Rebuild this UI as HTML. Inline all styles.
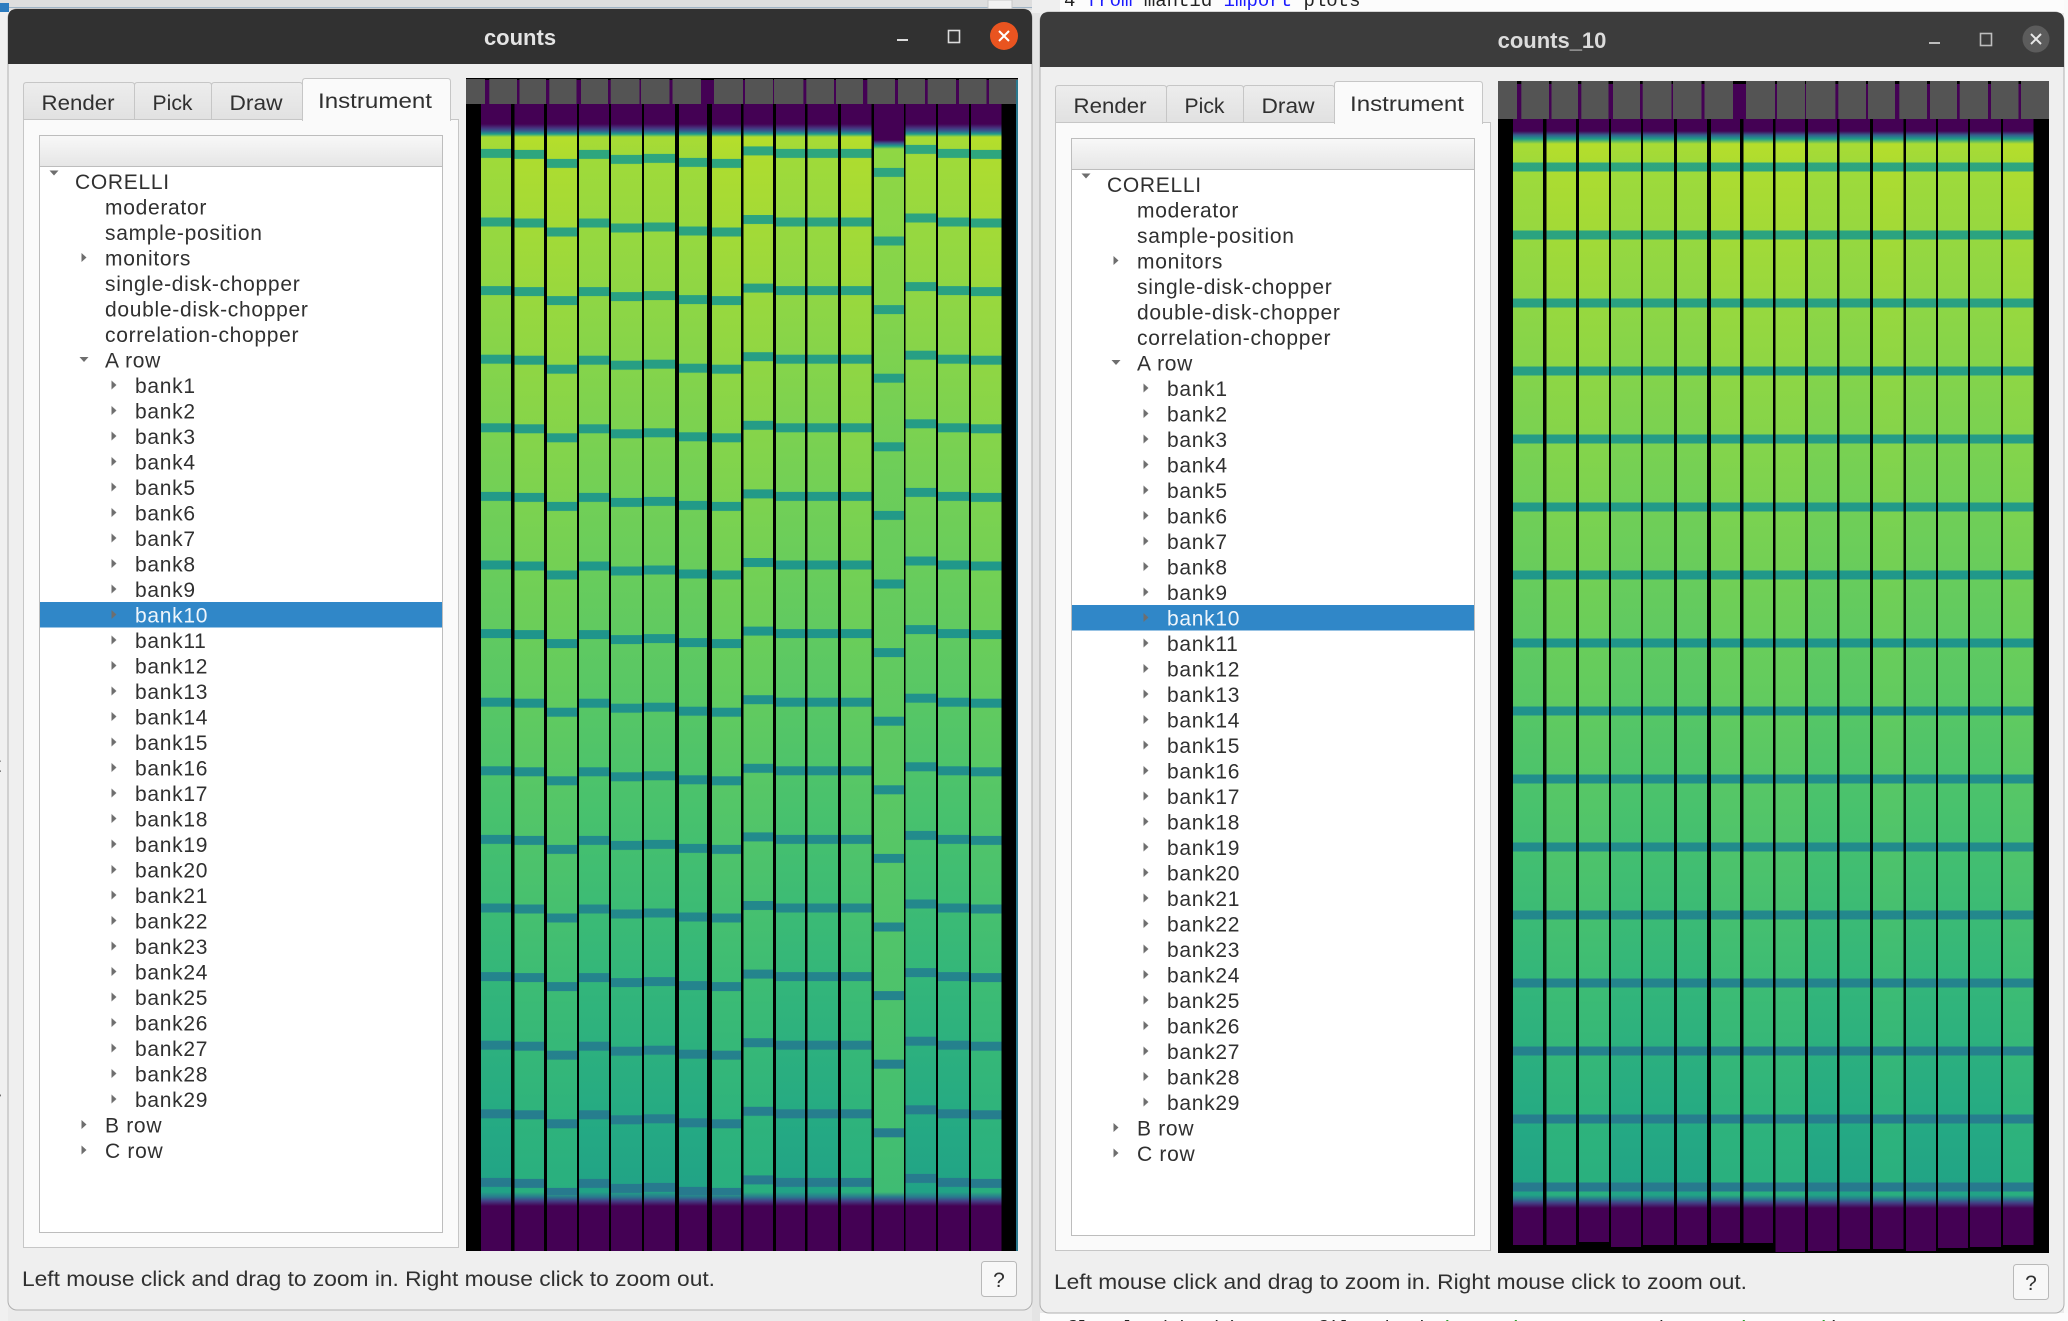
<!DOCTYPE html>
<html><head><meta charset="utf-8"><style>
html,body{margin:0;padding:0;width:2068px;height:1321px;overflow:hidden;background:#ebebeb}
svg{display:block}
.t{font-family:"Liberation Sans",sans-serif;font-size:21px;letter-spacing:.7px;fill:#303030}
.tab{font-family:"Liberation Sans",sans-serif;font-size:21px;fill:#303030}
.ttl{font-family:"Liberation Sans",sans-serif;font-size:22px;font-weight:bold;fill:#e4e4e4}
.st{font-family:"Liberation Sans",sans-serif;font-size:21px;fill:#303030}
.mono{font-family:"Liberation Mono",monospace;font-size:19px}
</style></head><body>
<svg width="2068" height="1321" viewBox="0 0 2068 1321" xmlns="http://www.w3.org/2000/svg">
<defs>
<linearGradient id="hdr" x1="0" y1="0" x2="0" y2="1"><stop offset="0" stop-color="#f8f8f8"/><stop offset="1" stop-color="#e6e6e6"/></linearGradient>
<linearGradient id="itab" x1="0" y1="0" x2="0" y2="1"><stop offset="0" stop-color="#ededed"/><stop offset="1" stop-color="#e1e1e1"/></linearGradient>
<linearGradient id="gA" gradientUnits="userSpaceOnUse" x1="0" y1="104" x2="0" y2="1251">
<stop offset="0" stop-color="#440154"/><stop offset="0.0174" stop-color="#440154"/><stop offset="0.0209" stop-color="#46337e"/><stop offset="0.0235" stop-color="#365c8d"/><stop offset="0.0262" stop-color="#1f9e89"/><stop offset="0.0288" stop-color="#a8db34"/><stop offset="0.0488" stop-color="#9fda3a"/><stop offset="0.1709" stop-color="#8ed645"/><stop offset="0.328" stop-color="#74d055"/><stop offset="0.476" stop-color="#5ec962"/><stop offset="0.624" stop-color="#47c16e"/><stop offset="0.7637" stop-color="#33b67a"/><stop offset="0.8858" stop-color="#25aa83"/><stop offset="0.9486" stop-color="#21a386"/><stop offset="0.953" stop-color="#2a788e"/><stop offset="0.9564" stop-color="#433e85"/><stop offset="0.9608" stop-color="#440154"/><stop offset="1" stop-color="#440154"/>
</linearGradient>
<linearGradient id="gB" gradientUnits="userSpaceOnUse" x1="0" y1="104" x2="0" y2="1251">
<stop offset="0" stop-color="#440154"/><stop offset="0.0174" stop-color="#440154"/><stop offset="0.0209" stop-color="#46337e"/><stop offset="0.0235" stop-color="#365c8d"/><stop offset="0.0262" stop-color="#1f9e89"/><stop offset="0.0288" stop-color="#b5de2b"/><stop offset="0.0488" stop-color="#addc30"/><stop offset="0.1709" stop-color="#98d83e"/><stop offset="0.328" stop-color="#7fd34e"/><stop offset="0.476" stop-color="#68cd5b"/><stop offset="0.624" stop-color="#52c569"/><stop offset="0.7637" stop-color="#3dbc74"/><stop offset="0.8858" stop-color="#2eb37c"/><stop offset="0.9486" stop-color="#29af7f"/><stop offset="0.953" stop-color="#2a788e"/><stop offset="0.9564" stop-color="#433e85"/><stop offset="0.9608" stop-color="#440154"/><stop offset="1" stop-color="#440154"/>
</linearGradient>
<linearGradient id="gC" gradientUnits="userSpaceOnUse" x1="0" y1="104" x2="0" y2="1251">
<stop offset="0" stop-color="#440154"/><stop offset="0.0314" stop-color="#440154"/><stop offset="0.034" stop-color="#3b528b"/><stop offset="0.0366" stop-color="#1f9e89"/><stop offset="0.0392" stop-color="#8fd744"/><stop offset="0.1709" stop-color="#84d44b"/><stop offset="0.328" stop-color="#6ccd5a"/><stop offset="0.476" stop-color="#62ca5f"/><stop offset="0.624" stop-color="#58c765"/><stop offset="0.7637" stop-color="#4ec36b"/><stop offset="0.8858" stop-color="#44bf70"/><stop offset="0.9486" stop-color="#3fbc73"/><stop offset="0.9529" stop-color="#2a788e"/><stop offset="0.9564" stop-color="#433e85"/><stop offset="0.9608" stop-color="#440154"/><stop offset="1" stop-color="#440154"/>
</linearGradient>
<linearGradient id="hA" gradientUnits="userSpaceOnUse" x1="0" y1="119" x2="0" y2="1253">
<stop offset="0" stop-color="#440154"/><stop offset="0.0106" stop-color="#440154"/><stop offset="0.0141" stop-color="#365c8d"/><stop offset="0.0176" stop-color="#1f9e89"/><stop offset="0.022" stop-color="#a8db34"/><stop offset="0.0406" stop-color="#9fda3a"/><stop offset="0.1596" stop-color="#8ed645"/><stop offset="0.3183" stop-color="#74d055"/><stop offset="0.4683" stop-color="#5ec962"/><stop offset="0.6182" stop-color="#47c16e"/><stop offset="0.7593" stop-color="#33b67a"/><stop offset="0.8827" stop-color="#25aa83"/><stop offset="0.9489" stop-color="#21a386"/><stop offset="0.9524" stop-color="#2a788e"/><stop offset="0.9559" stop-color="#433e85"/><stop offset="0.9603" stop-color="#440154"/><stop offset="1" stop-color="#440154"/>
</linearGradient>
<linearGradient id="hB" gradientUnits="userSpaceOnUse" x1="0" y1="119" x2="0" y2="1253">
<stop offset="0" stop-color="#440154"/><stop offset="0.0106" stop-color="#440154"/><stop offset="0.0141" stop-color="#365c8d"/><stop offset="0.0176" stop-color="#1f9e89"/><stop offset="0.022" stop-color="#b5de2b"/><stop offset="0.0406" stop-color="#addc30"/><stop offset="0.1596" stop-color="#98d83e"/><stop offset="0.3183" stop-color="#7fd34e"/><stop offset="0.4683" stop-color="#68cd5b"/><stop offset="0.6182" stop-color="#52c569"/><stop offset="0.7593" stop-color="#3dbc74"/><stop offset="0.8827" stop-color="#2eb37c"/><stop offset="0.9489" stop-color="#29af7f"/><stop offset="0.9524" stop-color="#2a788e"/><stop offset="0.9559" stop-color="#433e85"/><stop offset="0.9603" stop-color="#440154"/><stop offset="1" stop-color="#440154"/>
</linearGradient>
<linearGradient id="bandG1" gradientUnits="userSpaceOnUse" x1="0" y1="140" x2="0" y2="1195">
<stop offset="0" stop-color="#2ea67e"/><stop offset="0.45" stop-color="#1f968b"/><stop offset="1" stop-color="#277a8e"/>
</linearGradient>
<linearGradient id="bandG2" gradientUnits="userSpaceOnUse" x1="0" y1="146" x2="0" y2="1195">
<stop offset="0" stop-color="#2ea67e"/><stop offset="0.45" stop-color="#1f968b"/><stop offset="1" stop-color="#277a8e"/>
</linearGradient>
<pattern id="q1" patternUnits="userSpaceOnUse" width="40" height="68.6" patternTransform="translate(0,217.5)"><rect width="40" height="9" fill="#fff"/></pattern>
<pattern id="q2" patternUnits="userSpaceOnUse" width="40" height="68.6" patternTransform="translate(0,218.5)"><rect width="40" height="9" fill="#fff"/></pattern>
<pattern id="q3" patternUnits="userSpaceOnUse" width="40" height="68.6" patternTransform="translate(0,227.5)"><rect width="40" height="9" fill="#fff"/></pattern>
<pattern id="q4" patternUnits="userSpaceOnUse" width="40" height="68.6" patternTransform="translate(0,218.5)"><rect width="40" height="9" fill="#fff"/></pattern>
<pattern id="q5" patternUnits="userSpaceOnUse" width="40" height="68.6" patternTransform="translate(0,223.5)"><rect width="40" height="9" fill="#fff"/></pattern>
<pattern id="q6" patternUnits="userSpaceOnUse" width="40" height="68.6" patternTransform="translate(0,222.5)"><rect width="40" height="9" fill="#fff"/></pattern>
<pattern id="q7" patternUnits="userSpaceOnUse" width="40" height="68.6" patternTransform="translate(0,226.5)"><rect width="40" height="9" fill="#fff"/></pattern>
<pattern id="q8" patternUnits="userSpaceOnUse" width="40" height="68.6" patternTransform="translate(0,227.5)"><rect width="40" height="9" fill="#fff"/></pattern>
<pattern id="q9" patternUnits="userSpaceOnUse" width="40" height="68.6" patternTransform="translate(0,215)"><rect width="40" height="9" fill="#fff"/></pattern>
<pattern id="q10" patternUnits="userSpaceOnUse" width="40" height="68.6" patternTransform="translate(0,217.5)"><rect width="40" height="9" fill="#fff"/></pattern>
<pattern id="q11" patternUnits="userSpaceOnUse" width="40" height="68.6" patternTransform="translate(0,217.5)"><rect width="40" height="9" fill="#fff"/></pattern>
<pattern id="q12" patternUnits="userSpaceOnUse" width="40" height="68.6" patternTransform="translate(0,217.5)"><rect width="40" height="9" fill="#fff"/></pattern>
<pattern id="q13" patternUnits="userSpaceOnUse" width="40" height="68.6" patternTransform="translate(0,236.5)"><rect width="40" height="9" fill="#fff"/></pattern>
<pattern id="q14" patternUnits="userSpaceOnUse" width="40" height="68.6" patternTransform="translate(0,213.5)"><rect width="40" height="9" fill="#fff"/></pattern>
<pattern id="q15" patternUnits="userSpaceOnUse" width="40" height="68.6" patternTransform="translate(0,217.5)"><rect width="40" height="9" fill="#fff"/></pattern>
<pattern id="q16" patternUnits="userSpaceOnUse" width="40" height="68.6" patternTransform="translate(0,218.5)"><rect width="40" height="9" fill="#fff"/></pattern>
<pattern id="qW2" patternUnits="userSpaceOnUse" width="40" height="68" patternTransform="translate(0,162.5)"><rect width="40" height="9" fill="#fff"/></pattern>
<pattern id="arr" patternUnits="userSpaceOnUse" width="10" height="25.5" patternTransform="translate(110,372.25)"><path d="M1.5 8.25L6.5 12.75L1.5 17.25Z" fill="#6e6e6e"/></pattern>
<mask id="m1" maskUnits="userSpaceOnUse" x="0" y="0" width="2068" height="1321">
<rect x="481" y="141" width="30" height="1054" fill="url(#q1)"/>
<rect x="514.5" y="141" width="29.5" height="1054" fill="url(#q2)"/>
<rect x="547" y="141" width="30" height="1054" fill="url(#q3)"/>
<rect x="579" y="141" width="30" height="1054" fill="url(#q4)"/>
<rect x="611" y="141" width="31" height="1054" fill="url(#q5)"/>
<rect x="644" y="141" width="31" height="1054" fill="url(#q6)"/>
<rect x="679" y="141" width="28" height="1054" fill="url(#q7)"/>
<rect x="712" y="141" width="29" height="1054" fill="url(#q8)"/>
<rect x="743.5" y="141" width="29.5" height="1054" fill="url(#q9)"/>
<rect x="776" y="141" width="29" height="1054" fill="url(#q10)"/>
<rect x="807.5" y="141" width="30.5" height="1054" fill="url(#q11)"/>
<rect x="841" y="141" width="30.5" height="1054" fill="url(#q12)"/>
<rect x="874" y="150" width="30" height="1045" fill="url(#q13)"/>
<rect x="905.5" y="141" width="30.5" height="1054" fill="url(#q14)"/>
<rect x="938" y="141" width="31" height="1054" fill="url(#q15)"/>
<rect x="971" y="141" width="30.5" height="1054" fill="url(#q16)"/>
</mask>
<mask id="m2" maskUnits="userSpaceOnUse" x="0" y="0" width="2068" height="1321">
<g fill="url(#qW2)">
<rect x="1513" y="147" width="30" height="1047"/>
<rect x="1546.5" y="147" width="29.5" height="1047"/>
<rect x="1579" y="147" width="30" height="1047"/>
<rect x="1611" y="147" width="30" height="1047"/>
<rect x="1643" y="147" width="31" height="1047"/>
<rect x="1677" y="147" width="30" height="1047"/>
<rect x="1711" y="147" width="29" height="1047"/>
<rect x="1743.5" y="147" width="29.5" height="1047"/>
<rect x="1775.5" y="147" width="29.5" height="1047"/>
<rect x="1808" y="147" width="29" height="1047"/>
<rect x="1839.5" y="147" width="30.5" height="1047"/>
<rect x="1873" y="147" width="30.5" height="1047"/>
<rect x="1906" y="147" width="30" height="1047"/>
<rect x="1938" y="147" width="30" height="1047"/>
<rect x="1970" y="147" width="31" height="1047"/>
<rect x="2003" y="147" width="30.5" height="1047"/>
</g>
</mask>
</defs>

<rect x="0" y="0" width="2068" height="1321" fill="#ebebeb"/>
<rect x="0" y="0" width="1040" height="10" fill="#dedede"/>
<rect x="0" y="7" width="1040" height="1" fill="#9fb4c6"/>
<rect x="0" y="3" width="9" height="9" fill="#2b7bbf"/>
<rect x="988" y="0" width="24" height="10" fill="#f2f2f2" stroke="#c8c8c8"/>
<rect x="0" y="12" width="8" height="1309" fill="#f0f0f0"/>
<text x="-5" y="772" class="st" font-size="20">t</text>
<text x="-6" y="1106" class="st" font-size="20">r</text>
<rect x="1032" y="0" width="8" height="1321" fill="#e4e4e4"/>
<rect x="1040" y="0" width="1028" height="13" fill="#fcfcfc"/>
<rect x="1032" y="0" width="28" height="13" fill="#efefef"/>
<text x="1064" y="6" class="mono"><tspan fill="#222">4 </tspan><tspan fill="#1a1aff">from</tspan><tspan fill="#222"> mantid </tspan><tspan fill="#1a1aff">import</tspan><tspan fill="#222"> plots</tspan></text>
<rect x="2064" y="0" width="4" height="1321" fill="#fafafa"/>
<rect x="1040" y="1313" width="1028" height="8" fill="#fcfcfc"/>
<text x="1054" y="1334" class="mono" fill="#222">5f] = load_bank(counts_file, bank=<tspan fill="#2a9d2a">'10_10'</tspan>, output_workspace=<tspan fill="#2a9d2a">'counts'</tspan>)</text>

<g>
<rect x="8" y="9" width="1024" height="1301" rx="9" fill="#efefef" stroke="#b0b0b0"/>
<path d="M8 64V18Q8 9 17 9H1023Q1032 9 1032 18V64Z" fill="#313131"/>
<text x="520" y="45" text-anchor="middle" class="ttl">counts</text>
<line x1="897" y1="40" x2="908" y2="40" stroke="#dcdcdc" stroke-width="2"/>
<rect x="948.5" y="30.5" width="11" height="12" fill="none" stroke="#dcdcdc" stroke-width="1.6"/>
<circle cx="1004" cy="36" r="14" fill="#e95420"/>
<path d="M999 31L1009 41M1009 31L999 41" stroke="#fff" stroke-width="2"/>
<rect x="23.5" y="119.5" width="435" height="1128" fill="#fafafa" stroke="#c6c6c6"/>
<path d="M23.5 119.5V85.5Q23.5 82.5 26.5 82.5H131.5Q134.5 82.5 134.5 85.5V119.5Z" fill="url(#itab)" stroke="#c6c6c6"/>
<path d="M134.5 119.5V85.5Q134.5 82.5 137.5 82.5H208.5Q211.5 82.5 211.5 85.5V119.5Z" fill="url(#itab)" stroke="#c6c6c6"/>
<path d="M211.5 119.5V85.5Q211.5 82.5 214.5 82.5H299.5Q302.5 82.5 302.5 85.5V119.5Z" fill="url(#itab)" stroke="#c6c6c6"/>
<path d="M302.5 121V81.5Q302.5 78.5 305.5 78.5H447.5Q450.5 78.5 450.5 81.5V121" fill="#fafafa" stroke="#c6c6c6"/>
<rect x="303" y="118" width="147" height="4" fill="#fafafa"/>
<text x="78" y="110" text-anchor="middle" class="tab" textLength="73" lengthAdjust="spacingAndGlyphs">Render</text>
<text x="172.5" y="110" text-anchor="middle" class="tab" textLength="40" lengthAdjust="spacingAndGlyphs">Pick</text>
<text x="256" y="110" text-anchor="middle" class="tab" textLength="53" lengthAdjust="spacingAndGlyphs">Draw</text>
<text x="375" y="108" text-anchor="middle" class="tab" textLength="114" lengthAdjust="spacingAndGlyphs">Instrument</text>
<rect x="39.5" y="135.5" width="403" height="31" fill="url(#hdr)" stroke="#bdbdbd"/>
<rect x="39.5" y="166.5" width="403" height="1066" fill="#ffffff" stroke="#bdbdbd"/>
<rect x="40" y="602" width="402" height="25.5" fill="#3087c8"/>
<path d="M49.5 170.5H58.5L54 175.5Z" fill="#6e6e6e"/>
<path d="M81.5 253L86.5 257.5L81.5 262Z" fill="#6e6e6e"/>
<path d="M79.5 357H88.5L84 362Z" fill="#6e6e6e"/>
<path d="M81.5 1120L86.5 1124.5L81.5 1129Z" fill="#6e6e6e"/>
<path d="M81.5 1145.5L86.5 1150L81.5 1154.5Z" fill="#6e6e6e"/>
<rect x="110" y="372.25" width="10" height="739.5" fill="url(#arr)"/>
<text class="t" x="75" y="189">CORELLI</text>
<text class="t" x="105" y="214.5">moderator</text>
<text class="t" x="105" y="240">sample-position</text>
<text class="t" x="105" y="265.5">monitors</text>
<text class="t" x="105" y="291">single-disk-chopper</text>
<text class="t" x="105" y="316.5">double-disk-chopper</text>
<text class="t" x="105" y="342">correlation-chopper</text>
<text class="t" x="105" y="367.5">A row</text>
<text class="t" x="135" y="393">bank1</text>
<text class="t" x="135" y="418.5">bank2</text>
<text class="t" x="135" y="444">bank3</text>
<text class="t" x="135" y="469.5">bank4</text>
<text class="t" x="135" y="495">bank5</text>
<text class="t" x="135" y="520.5">bank6</text>
<text class="t" x="135" y="546">bank7</text>
<text class="t" x="135" y="571.5">bank8</text>
<text class="t" x="135" y="597">bank9</text>
<text class="t" x="135" y="622.5" style="fill:#eef5fb">bank10</text>
<text class="t" x="135" y="648">bank11</text>
<text class="t" x="135" y="673.5">bank12</text>
<text class="t" x="135" y="699">bank13</text>
<text class="t" x="135" y="724.5">bank14</text>
<text class="t" x="135" y="750">bank15</text>
<text class="t" x="135" y="775.5">bank16</text>
<text class="t" x="135" y="801">bank17</text>
<text class="t" x="135" y="826.5">bank18</text>
<text class="t" x="135" y="852">bank19</text>
<text class="t" x="135" y="877.5">bank20</text>
<text class="t" x="135" y="903">bank21</text>
<text class="t" x="135" y="928.5">bank22</text>
<text class="t" x="135" y="954">bank23</text>
<text class="t" x="135" y="979.5">bank24</text>
<text class="t" x="135" y="1005">bank25</text>
<text class="t" x="135" y="1030.5">bank26</text>
<text class="t" x="135" y="1056">bank27</text>
<text class="t" x="135" y="1081.5">bank28</text>
<text class="t" x="135" y="1107">bank29</text>
<text class="t" x="105" y="1132.5">B row</text>
<text class="t" x="105" y="1158">C row</text>
<text x="22" y="1286" class="st" textLength="693" lengthAdjust="spacingAndGlyphs">Left mouse click and drag to zoom in. Right mouse click to zoom out.</text>
<rect x="981.5" y="1261.5" width="35" height="35" rx="3" fill="#f7f7f7" stroke="#b9b9b9"/>
<text x="999" y="1287" text-anchor="middle" class="st">?</text>
</g>

<rect x="466" y="78" width="552" height="1173" fill="#000"/>
<rect x="481" y="80" width="521" height="24" fill="#440154"/>
<g fill="#545454">
<rect x="466" y="79" width="19" height="25"/><rect x="489.3" y="79" width="27.7" height="25"/><rect x="519.5" y="79" width="26.5" height="25"/><rect x="549.3" y="79" width="27.2" height="25"/><rect x="581" y="79" width="27" height="25"/><rect x="610.7" y="79" width="28.8" height="25"/><rect x="641" y="79" width="28.5" height="25"/><rect x="672.5" y="79" width="28.5" height="25"/><rect x="714" y="79" width="29" height="25"/><rect x="745" y="79" width="28" height="25"/><rect x="774" y="79" width="29.4" height="25"/><rect x="806.3" y="79" width="27.7" height="25"/><rect x="836" y="79" width="27" height="25"/><rect x="867.3" y="79" width="27.7" height="25"/><rect x="898" y="79" width="27" height="25"/><rect x="927.7" y="79" width="28.3" height="25"/><rect x="959" y="79" width="27.5" height="25"/><rect x="989" y="79" width="29" height="25"/>
</g>
<rect x="481" y="104" width="30" height="1147" fill="url(#gA)"/>
<rect x="514.5" y="104" width="29.5" height="1147" fill="url(#gB)"/>
<rect x="547" y="104" width="30" height="1147" fill="url(#gB)"/>
<rect x="579" y="104" width="30" height="1147" fill="url(#gA)"/>
<rect x="611" y="104" width="31" height="1147" fill="url(#gA)"/>
<rect x="644" y="104" width="31" height="1147" fill="url(#gA)"/>
<rect x="679" y="104" width="28" height="1147" fill="url(#gA)"/>
<rect x="712" y="104" width="29" height="1147" fill="url(#gB)"/>
<rect x="743.5" y="104" width="29.5" height="1147" fill="url(#gB)"/>
<rect x="776" y="104" width="29" height="1147" fill="url(#gA)"/>
<rect x="807.5" y="104" width="30.5" height="1147" fill="url(#gA)"/>
<rect x="841" y="104" width="30.5" height="1147" fill="url(#gB)"/>
<rect x="874" y="104" width="30" height="1147" fill="url(#gC)"/>
<rect x="905.5" y="104" width="30.5" height="1147" fill="url(#gA)"/>
<rect x="938" y="104" width="31" height="1147" fill="url(#gA)"/>
<rect x="971" y="104" width="30.5" height="1147" fill="url(#gB)"/>
<rect x="1016" y="80" width="2" height="1171" fill="#2a788e"/>
<rect x="466" y="140" width="552" height="1056" fill="url(#bandG1)" mask="url(#m1)"/>

<g transform="translate(1032,3)">
<rect x="8" y="9" width="1024" height="1301" rx="9" fill="#efefef" stroke="#b0b0b0"/>
<path d="M8 64V18Q8 9 17 9H1023Q1032 9 1032 18V64Z" fill="#3c3c3c"/>
<text x="520" y="45" text-anchor="middle" class="ttl" style="fill:#dcdcdc">counts_10</text>
<line x1="897" y1="40" x2="908" y2="40" stroke="#bdbdbd" stroke-width="2"/>
<rect x="948.5" y="30.5" width="11" height="12" fill="none" stroke="#bdbdbd" stroke-width="1.6"/>
<circle cx="1004" cy="36" r="13.5" fill="#5c5c5c"/>
<path d="M999 31L1009 41M1009 31L999 41" stroke="#e8e8e8" stroke-width="2"/>
<rect x="23.5" y="119.5" width="435" height="1128" fill="#fafafa" stroke="#c6c6c6"/>
<path d="M23.5 119.5V85.5Q23.5 82.5 26.5 82.5H131.5Q134.5 82.5 134.5 85.5V119.5Z" fill="url(#itab)" stroke="#c6c6c6"/>
<path d="M134.5 119.5V85.5Q134.5 82.5 137.5 82.5H208.5Q211.5 82.5 211.5 85.5V119.5Z" fill="url(#itab)" stroke="#c6c6c6"/>
<path d="M211.5 119.5V85.5Q211.5 82.5 214.5 82.5H299.5Q302.5 82.5 302.5 85.5V119.5Z" fill="url(#itab)" stroke="#c6c6c6"/>
<path d="M302.5 121V81.5Q302.5 78.5 305.5 78.5H447.5Q450.5 78.5 450.5 81.5V121" fill="#fafafa" stroke="#c6c6c6"/>
<rect x="303" y="118" width="147" height="4" fill="#fafafa"/>
<text x="78" y="110" text-anchor="middle" class="tab" textLength="73" lengthAdjust="spacingAndGlyphs">Render</text>
<text x="172.5" y="110" text-anchor="middle" class="tab" textLength="40" lengthAdjust="spacingAndGlyphs">Pick</text>
<text x="256" y="110" text-anchor="middle" class="tab" textLength="53" lengthAdjust="spacingAndGlyphs">Draw</text>
<text x="375" y="108" text-anchor="middle" class="tab" textLength="114" lengthAdjust="spacingAndGlyphs">Instrument</text>
<rect x="39.5" y="135.5" width="403" height="31" fill="url(#hdr)" stroke="#bdbdbd"/>
<rect x="39.5" y="166.5" width="403" height="1066" fill="#ffffff" stroke="#bdbdbd"/>
<rect x="40" y="602" width="402" height="25.5" fill="#3087c8"/>
<path d="M49.5 170.5H58.5L54 175.5Z" fill="#6e6e6e"/>
<path d="M81.5 253L86.5 257.5L81.5 262Z" fill="#6e6e6e"/>
<path d="M79.5 357H88.5L84 362Z" fill="#6e6e6e"/>
<path d="M81.5 1120L86.5 1124.5L81.5 1129Z" fill="#6e6e6e"/>
<path d="M81.5 1145.5L86.5 1150L81.5 1154.5Z" fill="#6e6e6e"/>
<rect x="110" y="372.25" width="10" height="739.5" fill="url(#arr)"/>
<text class="t" x="75" y="189">CORELLI</text>
<text class="t" x="105" y="214.5">moderator</text>
<text class="t" x="105" y="240">sample-position</text>
<text class="t" x="105" y="265.5">monitors</text>
<text class="t" x="105" y="291">single-disk-chopper</text>
<text class="t" x="105" y="316.5">double-disk-chopper</text>
<text class="t" x="105" y="342">correlation-chopper</text>
<text class="t" x="105" y="367.5">A row</text>
<text class="t" x="135" y="393">bank1</text>
<text class="t" x="135" y="418.5">bank2</text>
<text class="t" x="135" y="444">bank3</text>
<text class="t" x="135" y="469.5">bank4</text>
<text class="t" x="135" y="495">bank5</text>
<text class="t" x="135" y="520.5">bank6</text>
<text class="t" x="135" y="546">bank7</text>
<text class="t" x="135" y="571.5">bank8</text>
<text class="t" x="135" y="597">bank9</text>
<text class="t" x="135" y="622.5" style="fill:#eef5fb">bank10</text>
<text class="t" x="135" y="648">bank11</text>
<text class="t" x="135" y="673.5">bank12</text>
<text class="t" x="135" y="699">bank13</text>
<text class="t" x="135" y="724.5">bank14</text>
<text class="t" x="135" y="750">bank15</text>
<text class="t" x="135" y="775.5">bank16</text>
<text class="t" x="135" y="801">bank17</text>
<text class="t" x="135" y="826.5">bank18</text>
<text class="t" x="135" y="852">bank19</text>
<text class="t" x="135" y="877.5">bank20</text>
<text class="t" x="135" y="903">bank21</text>
<text class="t" x="135" y="928.5">bank22</text>
<text class="t" x="135" y="954">bank23</text>
<text class="t" x="135" y="979.5">bank24</text>
<text class="t" x="135" y="1005">bank25</text>
<text class="t" x="135" y="1030.5">bank26</text>
<text class="t" x="135" y="1056">bank27</text>
<text class="t" x="135" y="1081.5">bank28</text>
<text class="t" x="135" y="1107">bank29</text>
<text class="t" x="105" y="1132.5">B row</text>
<text class="t" x="105" y="1158">C row</text>
<text x="22" y="1286" class="st" textLength="693" lengthAdjust="spacingAndGlyphs">Left mouse click and drag to zoom in. Right mouse click to zoom out.</text>
<rect x="981.5" y="1261.5" width="35" height="35" rx="3" fill="#f7f7f7" stroke="#b9b9b9"/>
<text x="999" y="1287" text-anchor="middle" class="st">?</text>
</g>

<rect x="1498" y="81" width="551" height="1172" fill="#000"/>
<rect x="1513" y="84" width="521" height="35" fill="#440154"/>
<g fill="#545454">
<rect x="1498" y="81" width="19" height="38"/><rect x="1521.3" y="81" width="27.7" height="38"/><rect x="1551.5" y="81" width="26.5" height="38"/><rect x="1581.3" y="81" width="27.2" height="38"/><rect x="1613" y="81" width="27" height="38"/><rect x="1642.7" y="81" width="28.8" height="38"/><rect x="1673" y="81" width="28.5" height="38"/><rect x="1704.5" y="81" width="28.5" height="38"/><rect x="1746" y="81" width="29" height="38"/><rect x="1777" y="81" width="28" height="38"/><rect x="1806" y="81" width="29.4" height="38"/><rect x="1838.3" y="81" width="27.7" height="38"/><rect x="1868" y="81" width="27" height="38"/><rect x="1899.3" y="81" width="27.7" height="38"/><rect x="1930" y="81" width="27" height="38"/><rect x="1959.7" y="81" width="28.3" height="38"/><rect x="1991" y="81" width="27.5" height="38"/><rect x="2021" y="81" width="28" height="38"/>
</g>
<rect x="1513" y="119" width="30" height="1126" fill="url(#hA)"/>
<rect x="1546.5" y="119" width="29.5" height="1126" fill="url(#hB)"/>
<rect x="1579" y="119" width="30" height="1123" fill="url(#hB)"/>
<rect x="1611" y="119" width="30" height="1128" fill="url(#hA)"/>
<rect x="1643" y="119" width="31" height="1126" fill="url(#hA)"/>
<rect x="1677" y="119" width="30" height="1126" fill="url(#hA)"/>
<rect x="1711" y="119" width="29" height="1124" fill="url(#hB)"/>
<rect x="1743.5" y="119" width="29.5" height="1124" fill="url(#hB)"/>
<rect x="1775.5" y="119" width="29.5" height="1133" fill="url(#hB)"/>
<rect x="1808" y="119" width="29" height="1132" fill="url(#hA)"/>
<rect x="1839.5" y="119" width="30.5" height="1130" fill="url(#hA)"/>
<rect x="1873" y="119" width="30.5" height="1130" fill="url(#hB)"/>
<rect x="1906" y="119" width="30" height="1132" fill="url(#hA)"/>
<rect x="1938" y="119" width="30" height="1129" fill="url(#hA)"/>
<rect x="1970" y="119" width="31" height="1128" fill="url(#hA)"/>
<rect x="2003" y="119" width="30.5" height="1126" fill="url(#hB)"/>
<rect x="1498" y="146" width="551" height="1049" fill="url(#bandG2)" mask="url(#m2)"/>
</svg>
</body></html>
